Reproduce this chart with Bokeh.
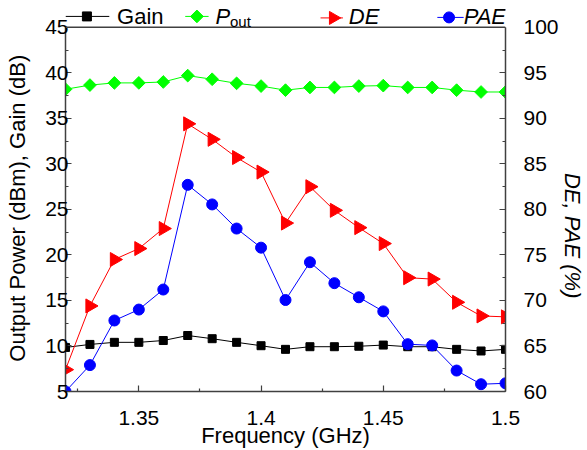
import numpy as np
from bokeh.plotting import figure
from bokeh.models import Range1d, LinearAxis, FixedTicker, Label, Span
from bokeh.embed import file_html
from bokeh.resources import INLINE

# ---- data ----
freq = [1.32, 1.33, 1.34, 1.35, 1.36, 1.37, 1.38, 1.39, 1.40, 1.41,
        1.42, 1.43, 1.44, 1.45, 1.46, 1.47, 1.48, 1.49, 1.50]
gain = [9.84, 10.17, 10.4, 10.4, 10.6, 11.15, 10.8, 10.4, 10.03, 9.63,
        9.92, 9.92, 9.97, 10.1, 9.92, 9.92, 9.63, 9.45, 9.63]
pout = [38.2, 38.66, 38.9, 38.9, 39.0, 39.7, 39.3, 38.85, 38.55, 38.1,
        38.4, 38.4, 38.55, 38.6, 38.4, 38.4, 38.1, 37.9, 37.9]
de = [62.4, 69.4, 74.5, 75.7, 77.9, 89.4, 87.7, 85.7, 84.1, 78.5,
      82.5, 79.9, 78.0, 76.25, 72.5, 72.35, 69.8, 68.3, 68.2]
pae = [60.0, 62.9, 67.8, 69.0, 71.2, 82.7, 80.55, 77.9, 75.8, 70.05,
       74.2, 71.9, 70.35, 68.8, 65.2, 65.06, 62.3, 60.8, 60.9]

xticks = [1.35, 1.4, 1.45, 1.5]
xtick_labels = ["1.35", "1.4", "1.45", "1.5"]
xminor = [1.325, 1.375, 1.425, 1.475]
yticks_left = [5, 10, 15, 20, 25, 30, 35, 40, 45]
yminor_left = [7.5, 12.5, 17.5, 22.5, 27.5, 32.5, 37.5, 42.5]
yticks_right = [60, 65, 70, 75, 80, 85, 90, 95, 100]
yminor_right = [62.5, 67.5, 72.5, 77.5, 82.5, 87.5, 92.5, 97.5]

FONT = "Liberation Sans"
AXC = "#404040"
NBSP = "\u00a0"
W, H = 587, 450
BL, BR, BB = 65, 70, 57
TOP_PX = 27                      # pixel row of the top of the axes box
X0, X1 = 1.32, 1.5
Y0, Y1 = 5, 45
R0, R1 = 60, 100
PX_PER_Y = (H - BB - TOP_PX) / (Y1 - Y0)
EXT = TOP_PX / PX_PER_Y          # room above the axes box for the legend


def px2x(px):
    return X0 + (px - BL) / (W - BL - BR) * (X1 - X0)


def py2y(py):
    return Y0 + (H - BB - py) / PX_PER_Y


p = figure(width=W, height=H, output_backend="svg", toolbar_location=None,
           x_range=Range1d(X0, X1), y_range=Range1d(Y0, Y1 + EXT),
           min_border_left=BL, min_border_right=BR,
           min_border_top=0, min_border_bottom=BB)
p.extra_y_ranges = {"eff": Range1d(R0, R1 + EXT)}
p.grid.visible = False
p.outline_line_color = None
p.background_fill_color = "white"
p.border_fill_color = "white"


def style_axis(ax, standoff):
    ax.axis_line_color = AXC
    ax.axis_line_width = 1.5
    ax.major_tick_in = 6
    ax.major_tick_out = 0
    ax.minor_tick_in = 3
    ax.minor_tick_out = 0
    ax.major_tick_line_color = AXC
    ax.minor_tick_line_color = AXC
    ax.major_tick_line_width = 1.2
    ax.minor_tick_line_width = 1.2
    ax.major_label_text_font = FONT
    ax.major_label_text_font_size = "21px"
    ax.major_label_text_color = "black"
    ax.major_label_standoff = standoff
    ax.axis_label_text_font = FONT
    ax.axis_label_text_font_size = "22px"
    ax.axis_label_text_font_style = "normal"
    ax.axis_label_text_color = "black"


xa = p.xaxis[0]
xa.ticker = FixedTicker(ticks=xticks, minor_ticks=xminor)
xa.major_label_overrides = dict(zip(xticks, xtick_labels))
style_axis(xa, 19)
xa.axis_label = "Frequency (GHz)"
xa.axis_label_standoff = -5

ya = p.yaxis[0]
ya.ticker = FixedTicker(ticks=yticks_left, minor_ticks=yminor_left)
ya.bounds = (Y0, Y1)
style_axis(ya, -3)
# trailing no-break spaces centre the label on the axes box, not on the taller frame
ya.axis_label = "Output Power (dBm), Gain (dB)" + NBSP * 4
ya.axis_label_standoff = 12

ra = LinearAxis(y_range_name="eff", bounds=(R0, R1),
                ticker=FixedTicker(ticks=yticks_right, minor_ticks=yminor_right))
style_axis(ra, 18)
ra.axis_label = NBSP * 13 + "DE, PAE (%)"
ra.axis_label_text_font_style = "italic"
ra.axis_label_standoff = -2
p.add_layout(ra, "right")

# top edge of the axes box
p.add_layout(Span(location=Y1, dimension="width", line_color=AXC, line_width=1.5))

# ---- series ----
p.line(freq, gain, line_color="black", line_width=1)
p.scatter(freq, gain, marker="square", size=8, color="black")
p.line(freq, pout, line_color="#00ff00", line_width=1)
p.scatter(freq, pout, marker="square", angle=np.pi / 4, size=9, color="#00ff00")
p.line(freq, de, line_color="#ff0000", line_width=1, y_range_name="eff")
p.scatter(freq, de, marker="triangle", angle=-np.pi / 2, size=14, color="#ff0000",
          y_range_name="eff")
p.line(freq, pae, line_color="#0000ff", line_width=1, y_range_name="eff")
p.scatter(freq, pae, marker="circle", size=11, color="#0000ff", y_range_name="eff")


# ---- legend, drawn in the strip above the axes box ----
def sample(x0, x1, xm, yy, color, marker, size, angle=0.0):
    p.line([px2x(x0), px2x(x1)], [py2y(yy), py2y(yy)], line_color=color, line_width=1)
    p.scatter([px2x(xm)], [py2y(yy)], marker=marker, size=size, angle=angle, color=color)


def text(x, yy, s, size="22px", style="normal"):
    p.add_layout(Label(x=px2x(x), y=py2y(yy), text=s, text_align="left",
                       text_baseline="middle", text_font=FONT, text_font_size=size,
                       text_font_style=style, text_color="black"))


sample(65, 110, 87, 16, "black", "square", 9)
text(118, 16, "Gain")
sample(188, 212, 200, 16, "#00ff00", "square", 9, np.pi / 4)
text(219, 16, "P", style="italic")
text(234, 21, "out", size="15px")
sample(327, 350, 340, 17.5, "#ff0000", "triangle", 13, -np.pi / 2)
text(356, 16, "DE", style="italic")
sample(447, 474, 459, 17, "#0000ff", "circle", 11)
text(474, 16, "PAE", style="italic")

open("out.html", "w").write(file_html(p, INLINE))
